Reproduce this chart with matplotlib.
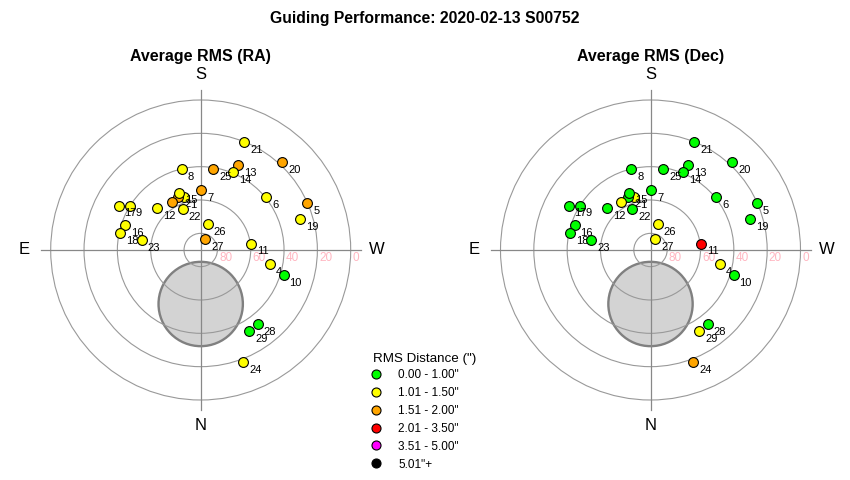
import numpy as np
import matplotlib
matplotlib.use('Agg')
import matplotlib.pyplot as plt
from matplotlib.lines import Line2D
from matplotlib.patches import Circle

plt.rcParams['font.family'] = ['Liberation Sans', 'DejaVu Sans']

# frame number, position on the sky (azimuth from N through E, altitude)
frames = list(range(1, 30))
azimuth = [162.4, 157.3, 148.7, 281.6, 246.4, 231.3, 180.6, 166.7, 122.1, 287.0,
           263.2, 134.1, 204.0, 202.8, 159.6, 108.0, 118.4, 101.7, 252.9, 223.0,
           202.1, 156.1, 99.3, 339.2, 188.9, 195.3, 203.6, 322.5, 329.0]
altitude = [56.9, 55.3, 56.5, 47.3, 20.1, 39.5, 54.0, 40.3, 39.9, 37.9,
            59.4, 53.8, 34.4, 39.4, 53.3, 42.1, 34.1, 40.8, 27.4, 18.1,
            20.3, 63.3, 54.1, 17.9, 41.0, 74.0, 83.0, 33.8, 33.3]

# RMS class of each frame (index into bin_labels)
rms_ra_bin = [1, 2, 2, 1, 2, 1, 2, 1, 1, 0,
              1, 1, 2, 1, 1, 1, 1, 1, 1, 2,
              1, 1, 1, 1, 2, 1, 2, 0, 0]
rms_dec_bin = [1, 0, 1, 1, 0, 0, 0, 0, 0, 0,
               3, 0, 0, 0, 0, 0, 0, 0, 0, 0,
               0, 0, 0, 2, 0, 1, 1, 0, 1]

bin_labels = ['0.00 - 1.00"', '1.01 - 1.50"', '1.51 - 2.00"',
              '2.01 - 3.50"', '3.51 - 5.00"', '5.01"+']
bin_colors = ['#00ff00', '#ffff00', '#ffa500', '#ff0000', '#ff00ff', '#000000']

ring_alts = [80, 60, 40, 20, 0]
moon_az, moon_alt, moon_size = 0.0, 57.6, 25.3


def to_xy(az, alt):
    az = np.radians(np.asarray(az, dtype=float))
    r = 90.0 - np.asarray(alt, dtype=float)
    return -r * np.sin(az), -r * np.cos(az)


def draw_panel(ax, bins, title):
    ax.set_xlim(-110, 110)
    ax.set_ylim(-110, 110)
    ax.set_aspect('equal')
    ax.axis('off')

    mx, my = to_xy(moon_az, moon_alt)
    ax.add_patch(Circle((mx, my), moon_size, facecolor='#d3d3d3',
                        edgecolor='#808080', lw=1.7, zorder=1))

    for a in ring_alts:
        ax.add_patch(Circle((0, 0), 90 - a, fill=False, edgecolor='#999999',
                            lw=0.8, zorder=2))
        ax.text(90 - a + 1.0, -5.0, str(a), color='#ffb6c1', fontsize=8.5,
                ha='left', va='center', zorder=2)
    ax.plot([-96, 96], [0, 0], color='#888888', lw=0.9, zorder=2)
    ax.plot([0, 0], [-96, 96], color='#888888', lw=0.9, zorder=2)

    ax.text(0, 105.5, 'S', fontsize=12, ha='center', va='center')
    ax.text(0, -105, 'N', fontsize=12, ha='center', va='center')
    ax.text(-106, 0, 'E', fontsize=12, ha='center', va='center')
    ax.text(105.5, 0, 'W', fontsize=12, ha='center', va='center')
    ax.text(0, 116, title, fontsize=11.5, fontweight='bold',
            ha='center', va='center', clip_on=False)

    xs, ys = to_xy(azimuth, altitude)
    for i, f in enumerate(frames):
        z = 10 + 2 * i
        ax.scatter(xs[i], ys[i], s=50, c=bin_colors[bins[i]],
                   edgecolors='black', linewidths=0.8, zorder=z)
        ax.annotate(str(f), (xs[i], ys[i]), xytext=(4.2, -5.4),
                    textcoords='offset points', fontsize=8,
                    ha='left', va='center', zorder=z + 1)


fig = plt.figure(figsize=(8.5, 4.8), dpi=100)
W, H = 850.0, 480.0
half = 110 * 150 / 90.0
for cx, bins, title in [(200.7, rms_ra_bin, 'Average RMS (RA)'),
                        (650.5, rms_dec_bin, 'Average RMS (Dec)')]:
    ax = fig.add_axes([(cx - half) / W, (H - 250 - half) / H,
                       2 * half / W, 2 * half / H])
    draw_panel(ax, bins, title)

fig.text(0.5, 1 - 19 / H, 'Guiding Performance: 2020-02-13 S00752',
         fontsize=11.3, fontweight='bold', ha='center', va='center')

fig.text(373 / W, 1 - 359 / H, 'RMS Distance (")', fontsize=9.6,
         ha='left', va='center')
handles = [Line2D([], [], marker='o', ls='', markersize=6.5,
                  markerfacecolor=c, markeredgecolor='black',
                  markeredgewidth=0.8) for c in bin_colors]
fig.legend(handles, bin_labels, loc='upper left',
           bbox_to_anchor=(371 / W, 1 - 369 / H), frameon=False,
           fontsize=8.5, borderpad=0, borderaxespad=0,
           handlelength=0.9, handletextpad=1.4, labelspacing=0.5)

fig.savefig('out.png', dpi=100)
